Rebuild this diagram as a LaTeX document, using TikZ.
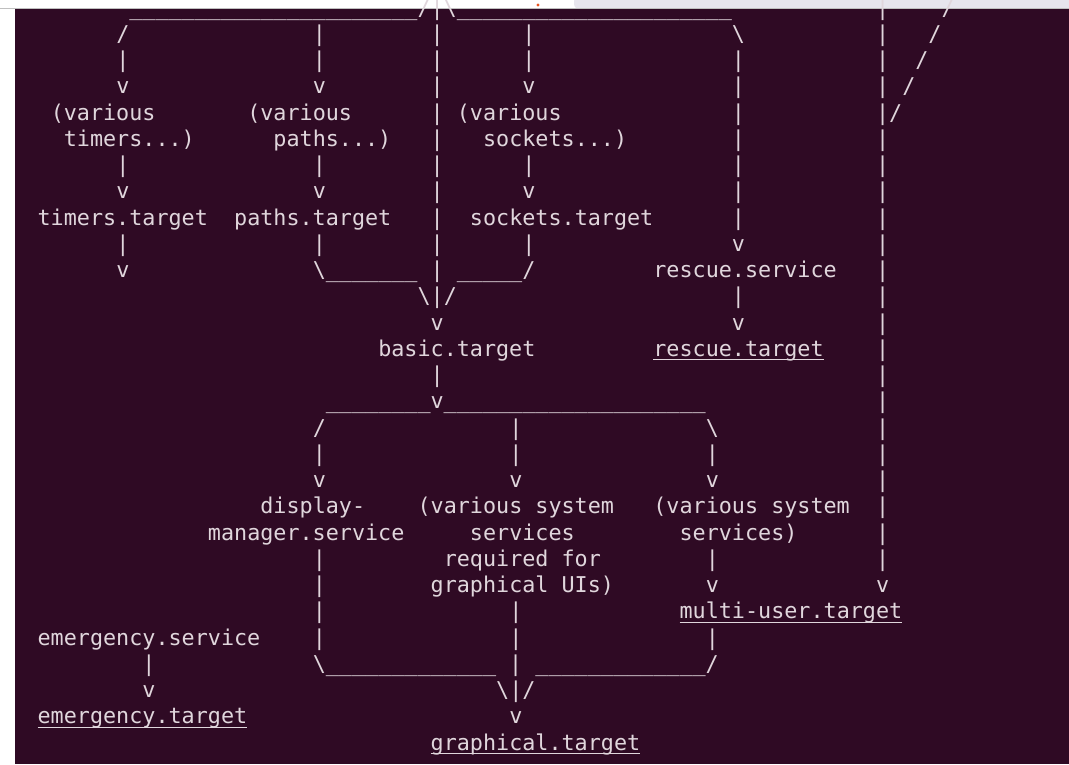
\documentclass[tikz,border=0pt]{standalone}
\usepackage{fontspec}
\newfontfamily\termfont{DejaVu Sans Mono}
\usetikzlibrary{positioning}

\definecolor{termbg}{HTML}{2F0A24}
\definecolor{termfg}{HTML}{E0D6DC}
\definecolor{tabbar}{HTML}{E7E5ED}
\definecolor{ubuorange}{HTML}{E95420}

% underlined unit names, as man prints them
\newcommand\undr[1]{\setbox0\hbox{#1}\rlap{\rule[-4pt]{\wd0}{1.2pt}}\box0}
% a run of underscores
\newcommand\us[1]{\foreach\i in {1,...,#1}{\_}}

\begin{document}
\begin{tikzpicture}[
    ch/.style={font=\termfont\fontsize{21.76pt}{26pt}\selectfont, text=termfg,
      inner sep=0pt, outer sep=0pt, anchor=base west},
    unit/.style={ch}
]
    \useasboundingbox (0,0) rectangle (1069pt,-764pt);
    \fill[white] (0,0) rectangle (1069pt,-764pt);
    \fill[tabbar, rounded corners=4pt] (574pt,3pt) rectangle (1080pt,-8.5pt);
    \draw[black!25, line width=0.6pt] (0,-8.6pt) -- (1069pt,-8.6pt);
    \fill[termbg] (15pt,-9pt) rectangle (1069pt,-764pt);
    \fill[ubuorange] (538pt,-5pt) circle (1.6pt);

    \begin{scope}[shift={(11.45pt,-15pt)}, x=13.1pt, y=-26.25pt]
    % ascii connectors
    \node[ch] (fork1) at (9,0) {\us{22}/|\textbackslash\us{21}};
    \node[ch] (join1) at (23,10) {\textbackslash\us{7} | \us{5}/};
    \node[ch] (merge1) at (31,11) {\textbackslash|/};
    \node[ch] (fork2) at (24,15) {\us{8}v\us{20}};
    \node[ch] (join2) at (23,25) {\textbackslash\us{13} | \us{13}/};
    \node[ch] (merge2) at (37,26) {\textbackslash|/};

    \foreach \c/\r in {8/2,8/6,8/9,23/1,23/2,23/6,23/9,23/17,23/21,23/22,23/23,23/24,
        32/14,38/16,38/17,38/23,38/24,39/1,39/2,39/6,39/9,53/17,53/21,53/24,55/11,10/25}
      \node[ch] (bar-\c-\r) at (\c,\r) {|};
    \foreach \r in {1,...,9}
      \node[ch] (bar-32-\r) at (32,\r) {|};
    \foreach \r in {2,...,8}
      \node[ch] (bar-55-\r) at (55,\r) {|};
    \foreach \r in {0,...,21}
      \node[ch] (bar-66-\r) at (66,\r) {|};
    \foreach \c/\r in {8/3,23/3,39/3,8/7,23/7,39/7,8/10,55/9,32/12,55/12,
        23/18,38/18,53/18,53/22,66/22,10/26,38/27}
      \node[ch] (tip-\c-\r) at (\c,\r) {v};
    \foreach \c/\r in {8/1,23/16}
      \node[ch] (sl-\c-\r) at (\c,\r) {/};
    \foreach \r in {0,...,4}
      \node[ch] (diag-\r) at (71-\r,\r) {/};
    \node[ch] (bs-55-1) at (55,1) {\textbackslash};
    \node[ch] (bs-53-16) at (53,16) {\textbackslash};

    % units
    \node[unit] (timersv) at (3,4) {(various};
    \node[unit] (timersx) at (4,5) {timers...)};
    \node[unit] (pathsv) at (18,4) {(various};
    \node[unit] (pathsx) at (20,5) {paths...)};
    \node[unit] (socketsv) at (34,4) {(various};
    \node[unit] (socketsx) at (36,5) {sockets...)};
    \node[unit] (timers) at (2,8) {timers.target};
    \node[unit] (paths) at (17,8) {paths.target};
    \node[unit] (sockets) at (35,8) {sockets.target};
    \node[unit] (rescuesvc) at (49,10) {rescue.service};
    \node[unit] (basic) at (28,13) {basic.target};
    \node[unit] (rescue) at (49,13) {\undr{rescue.target}};
    \node[unit] (dm1) at (19,19) {display-};
    \node[unit] (dm2) at (15,20) {manager.service};
    \node[unit] (gui1) at (31,19) {(various system};
    \node[unit] (gui2) at (35,20) {services};
    \node[unit] (gui3) at (33,21) {required for};
    \node[unit] (gui4) at (32,22) {graphical UIs)};
    \node[unit] (sys1) at (49,19) {(various system};
    \node[unit] (sys2) at (51,20) {services)};
    \node[unit] (multiuser) at (51,23) {\undr{multi-user.target}};
    \node[unit] (emergsvc) at (2,24) {emergency.service};
    \node[unit] (emerg) at (2,27) {\undr{emergency.target}};
    \node[unit] (graphical) at (32,28) {\undr{graphical.target}};
    \end{scope}
\end{tikzpicture}
\end{document}
